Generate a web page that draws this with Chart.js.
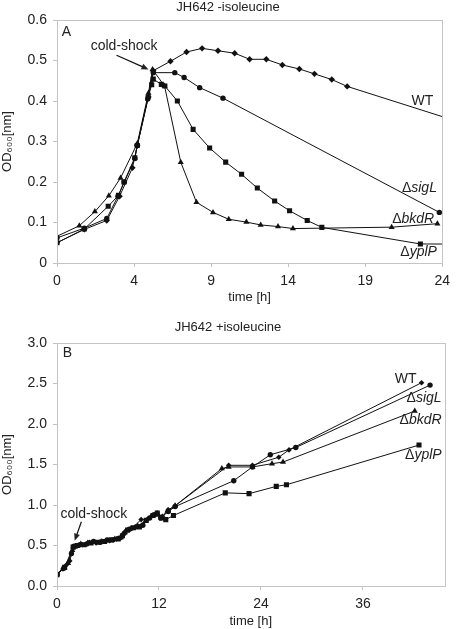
<!DOCTYPE html>
<html lang="en">
<head>
  <meta charset="UTF-8">
  <title>JH642 cold-shock growth</title>
  <script src="https://cdn.jsdelivr.net/npm/chart.js"></script>
  <style>
    body { margin: 0; background: #fff; }
    #wrap { position: relative; width: 456px; height: 629px; }
    canvas { position: absolute; left: 0; }
  </style>
</head>
<body>
  <div id="wrap">
    <canvas id="chartA" width="456" height="305" style="top:0"></canvas>
    <canvas id="chartB" width="456" height="324" style="top:305px"></canvas>
  </div>

  <script>
    // ---- panel A: JH642 -isoleucine ----
    const tA_WT   = [0, 1.7, 3.1, 3.9, 4.7, 5.0, 5.7, 6.0, 7.07, 8.07, 9.04, 10.03, 11.07, 12.0, 13.04, 14.04, 15.1, 16.04, 17.12, 18.08, 30];
    const odA_WT  = [0.05, 0.083, 0.105, 0.165, 0.235, 0.29, 0.41, 0.475, 0.498, 0.521, 0.530, 0.524, 0.518, 0.503, 0.503, 0.489, 0.479, 0.467, 0.453, 0.436, 0.286];
    const tA_sigL  = [0, 1.7, 3.1, 3.8, 4.2, 4.85, 5.0, 5.65, 6.0, 7.34, 7.92, 8.89, 10.34, 23.82];
    const odA_sigL = [0.062, 0.086, 0.11, 0.165, 0.2, 0.258, 0.29, 0.405, 0.47, 0.47, 0.458, 0.433, 0.407, 0.125];
    const tA_bkdR  = [0, 1.39, 2.36, 3.23, 3.96, 5.0, 5.7, 5.95, 6.7, 7.71, 8.69, 9.72, 10.7, 11.8, 12.69, 13.77, 14.7, 20.85, 23.7];
    const odA_bkdR = [0.066, 0.092, 0.127, 0.166, 0.21, 0.295, 0.42, 0.478, 0.437, 0.249, 0.150, 0.125, 0.108, 0.101, 0.094, 0.090, 0.085, 0.0885, 0.097];
    const tA_yplP  = [0, 1.7, 3.19, 3.83, 4.17, 4.85, 5.0, 5.68, 5.9, 6.0, 6.5, 6.72, 7.5, 8.48, 9.51, 10.51, 11.5, 12.48, 13.56, 14.49, 15.59, 16.5, 22.64, 30];
    const odA_yplP = [0.05, 0.084, 0.14, 0.167, 0.2, 0.26, 0.29, 0.41, 0.44, 0.454, 0.441, 0.437, 0.40, 0.33, 0.284, 0.249, 0.219, 0.185, 0.153, 0.129, 0.105, 0.088, 0.047, 0.046];
    const xTicksA = ['0', '4', '9', '14', '19', '24'];
    const yTicksA = ['0', '0.1', '0.2', '0.3', '0.4', '0.5', '0.6'];

    // ---- panel B: JH642 +isoleucine ----
    const tB_WT   = [0, 0.7, 1.1, 1.5, 1.9, 2.3, 3.0, 3.8, 4.6, 5.4, 6.2, 7.0, 7.6, 8.1, 8.8, 9.9, 10.6, 11.3, 11.8, 12.4, 13.1, 13.9, 20.2, 23.0, 26.1, 27.3, 42.9];
    const odB_WT  = [0.15, 0.21, 0.26, 0.31, 0.47, 0.50, 0.51, 0.54, 0.53, 0.55, 0.56, 0.58, 0.60, 0.68, 0.71, 0.82, 0.82, 0.88, 0.90, 0.86, 0.94, 0.99, 1.49, 1.49, 1.59, 1.68, 2.51];
    const tB_sigL  = [0, 0.8, 1.7, 2.0, 2.7, 3.5, 4.3, 5.1, 5.9, 6.6, 7.3, 7.9, 8.5, 9.3, 10.1, 10.9, 11.5, 12.2, 13.1, 13.9, 20.8, 23.0, 25.1, 28.1, 43.9];
    const odB_sigL = [0.14, 0.22, 0.40, 0.49, 0.51, 0.52, 0.55, 0.54, 0.57, 0.57, 0.59, 0.65, 0.70, 0.73, 0.75, 0.84, 0.88, 0.84, 0.92, 0.98, 1.30, 1.47, 1.62, 1.71, 2.48];
    const tB_bkdR  = [0, 1.3, 1.8, 2.1, 2.8, 3.6, 4.4, 5.2, 6.0, 6.8, 7.5, 8.0, 8.7, 9.5, 10.4, 11.1, 11.7, 12.4, 13.0, 13.9, 19.4, 20.2, 23.0, 25.3, 26.6, 42.1];
    const odB_bkdR = [0.15, 0.28, 0.44, 0.48, 0.52, 0.53, 0.54, 0.55, 0.56, 0.58, 0.60, 0.66, 0.71, 0.74, 0.80, 0.86, 0.89, 0.85, 0.93, 0.99, 1.45, 1.47, 1.47, 1.51, 1.53, 2.16];
    const tB_yplP  = [0, 0.9, 1.9, 2.4, 3.2, 4.0, 4.8, 5.6, 6.4, 7.2, 7.7, 8.3, 9.0, 9.7, 10.5, 11.3, 11.8, 12.3, 12.8, 13.7, 19.8, 22.6, 25.8, 27.0, 42.6];
    const odB_yplP = [0.14, 0.23, 0.48, 0.50, 0.51, 0.53, 0.54, 0.55, 0.57, 0.58, 0.62, 0.69, 0.72, 0.73, 0.81, 0.87, 0.90, 0.84, 0.82, 0.87, 1.15, 1.14, 1.23, 1.25, 1.74];
    const xTicksB = ['0', '12', '24', '36'];
    const yTicksB = ['0.0', '0.5', '1.0', '1.5', '2.0', '2.5', '3.0'];

    const FONT = '"Liberation Sans", Arial, sans-serif';
    const TXT = '#222';
    const AXIS = '#c4c4c4';

    function pts(ts, vs) {
      return ts.map((t, i) => ({ x: t, y: vs[i] }));
    }

    function series(ts, vs, style, r) {
      return {
        data: pts(ts, vs),
        borderColor: '#111',
        backgroundColor: '#111',
        borderWidth: 1,
        pointStyle: style,
        pointRadius: r,
        pointBorderWidth: 0,
        tension: 0
      };
    }

    // text labels and arrows placed in data units
    const overlay = {
      id: 'overlay',
      afterDatasetsDraw(chart, args, opts) {
        const ctx = chart.ctx;
        const xs = chart.scales.x, ys = chart.scales.y;
        ctx.save();
        ctx.fillStyle = TXT;
        ctx.textBaseline = 'middle';

        // title
        ctx.font = '13px ' + FONT;
        ctx.textAlign = 'center';
        ctx.fillText(opts.title, 228, opts.titleY);

        // panel letter and cold-shock text
        ctx.textAlign = 'left';
        ctx.font = '14px ' + FONT;
        ctx.fillText(opts.letter[0], xs.getPixelForValue(opts.letter[1]), ys.getPixelForValue(opts.letter[2]));
        ctx.fillText('cold-shock', xs.getPixelForValue(opts.cold[0]), ys.getPixelForValue(opts.cold[1]));

        // arrow
        const a = opts.arrow;
        const x1 = xs.getPixelForValue(a[0]), y1 = ys.getPixelForValue(a[1]);
        const x2 = xs.getPixelForValue(a[2]), y2 = ys.getPixelForValue(a[3]);
        const ang = Math.atan2(y2 - y1, x2 - x1);
        ctx.strokeStyle = '#111';
        ctx.lineWidth = 1.2;
        ctx.beginPath();
        ctx.moveTo(x1, y1);
        ctx.lineTo(x2 - 5 * Math.cos(ang), y2 - 5 * Math.sin(ang));
        ctx.stroke();
        ctx.beginPath();
        ctx.moveTo(x2, y2);
        ctx.lineTo(x2 - 7 * Math.cos(ang) + 3 * Math.sin(ang), y2 - 7 * Math.sin(ang) - 3 * Math.cos(ang));
        ctx.lineTo(x2 - 7 * Math.cos(ang) - 3 * Math.sin(ang), y2 - 7 * Math.sin(ang) + 3 * Math.cos(ang));
        ctx.closePath();
        ctx.fill();

        // strain labels, right aligned: [x, y, upright part, italic part]
        opts.strains.forEach(s => {
          const xr = xs.getPixelForValue(s[0]);
          const y = ys.getPixelForValue(s[1]);
          ctx.font = '14px ' + FONT;
          const w1 = ctx.measureText(s[2]).width;
          ctx.font = 'italic 14px ' + FONT;
          const w2 = ctx.measureText(s[3]).width;
          ctx.textAlign = 'left';
          ctx.font = '14px ' + FONT;
          ctx.fillText(s[2], xr - w1 - w2, y);
          ctx.font = 'italic 14px ' + FONT;
          ctx.fillText(s[3], xr - w2, y);
        });

        // frame
        const ca = chart.chartArea;
        ctx.strokeStyle = AXIS;
        ctx.lineWidth = 1;
        ctx.strokeRect(Math.round(ca.left) + 0.5, Math.round(ca.top) + 0.5, Math.round(ca.right - ca.left), Math.round(ca.bottom - ca.top));
        ctx.restore();
      }
    };

    function makeChart(id, datasets, cfg) {
      return new Chart(document.getElementById(id), {
        type: 'line',
        data: { datasets: datasets },
        plugins: [overlay],
        options: {
          responsive: false,
          animation: false,
          layout: { padding: { top: cfg.padTop, right: cfg.padRight, left: 0, bottom: 0 } },
          plugins: {
            legend: { display: false },
            tooltip: { enabled: false },
            overlay: cfg.overlay
          },
          scales: {
            x: {
              type: 'linear',
              min: 0,
              max: cfg.xMax,
              afterFit(s) { s.height = cfg.xHeight; },
              grid: { drawOnChartArea: false, drawTicks: true, tickLength: 4, color: AXIS },
              border: { color: AXIS },
              ticks: {
                stepSize: cfg.xStep,
                includeBounds: false,
                padding: 6,
                color: TXT,
                font: { family: FONT, size: 14 },
                maxRotation: 0,
                callback: (v, i) => cfg.xLabels[i]
              },
              title: {
                display: true,
                text: 'time [h]',
                color: TXT,
                font: { family: FONT, size: 13 },
                padding: 0
              }
            },
            y: {
              min: 0,
              max: cfg.yMax,
              afterFit(s) { s.width = 57; },
              grid: { drawOnChartArea: false, drawTicks: true, tickLength: 4, color: AXIS },
              border: { color: AXIS },
              ticks: {
                stepSize: cfg.yStep,
                padding: 6,
                color: TXT,
                font: { family: FONT, size: 14 },
                callback: (v, i) => cfg.yLabels[i]
              },
              title: {
                display: true,
                text: 'OD₆₀₀[nm]',
                color: TXT,
                font: { family: FONT, size: 13 },
                padding: 0
              }
            }
          }
        }
      });
    }

    makeChart('chartA', [
      series(tA_WT, odA_WT, 'rectRot', 3.2),
      series(tA_sigL, odA_sigL, 'circle', 2.7),
      series(tA_bkdR, odA_bkdR, 'triangle', 3.5),
      series(tA_yplP, odA_yplP, 'rect', 3.6)
    ], {
      padTop: 20, padRight: 12, xHeight: 42,
      xMax: 24, xStep: 4.8, xLabels: xTicksA,
      yMax: 0.6, yStep: 0.1, yLabels: yTicksA,
      overlay: {
        title: 'JH642 -isoleucine', titleY: 7,
        letter: ['A', 0.3, 0.57],
        cold: [2.1, 0.536],
        arrow: [3.71, 0.513, 5.7, 0.478],
        strains: [
          [23.45, 0.40, 'WT', ''],
          [23.67, 0.185, 'Δ', 'sigL'],
          [23.5, 0.109, 'Δ', 'bkdR'],
          [23.67, 0.028, 'Δ', 'yplP']
        ]
      }
    });

    makeChart('chartB', [
      series(tB_WT, odB_WT, 'rectRot', 2.8),
      series(tB_sigL, odB_sigL, 'circle', 2.7),
      series(tB_bkdR, odB_bkdR, 'triangle', 3.5),
      series(tB_yplP, odB_yplP, 'rect', 3.6)
    ], {
      padTop: 38, padRight: 11.5, xHeight: 43,
      xMax: 45.6, xStep: 12, xLabels: xTicksB,
      yMax: 3, yStep: 0.5, yLabels: yTicksB,
      overlay: {
        title: 'JH642 +isoleucine', titleY: 22,
        letter: ['B', 0.67, 2.88],
        cold: [0.4, 0.885],
        arrow: [2.87, 0.794, 2.08, 0.56],
        strains: [
          [42.3, 2.55, 'WT', ''],
          [45.26, 2.325, 'Δ', 'sigL'],
          [45.26, 2.05, 'Δ', 'bkdR'],
          [45.26, 1.62, 'Δ', 'yplP']
        ]
      }
    });
  </script>
</body>
</html>
